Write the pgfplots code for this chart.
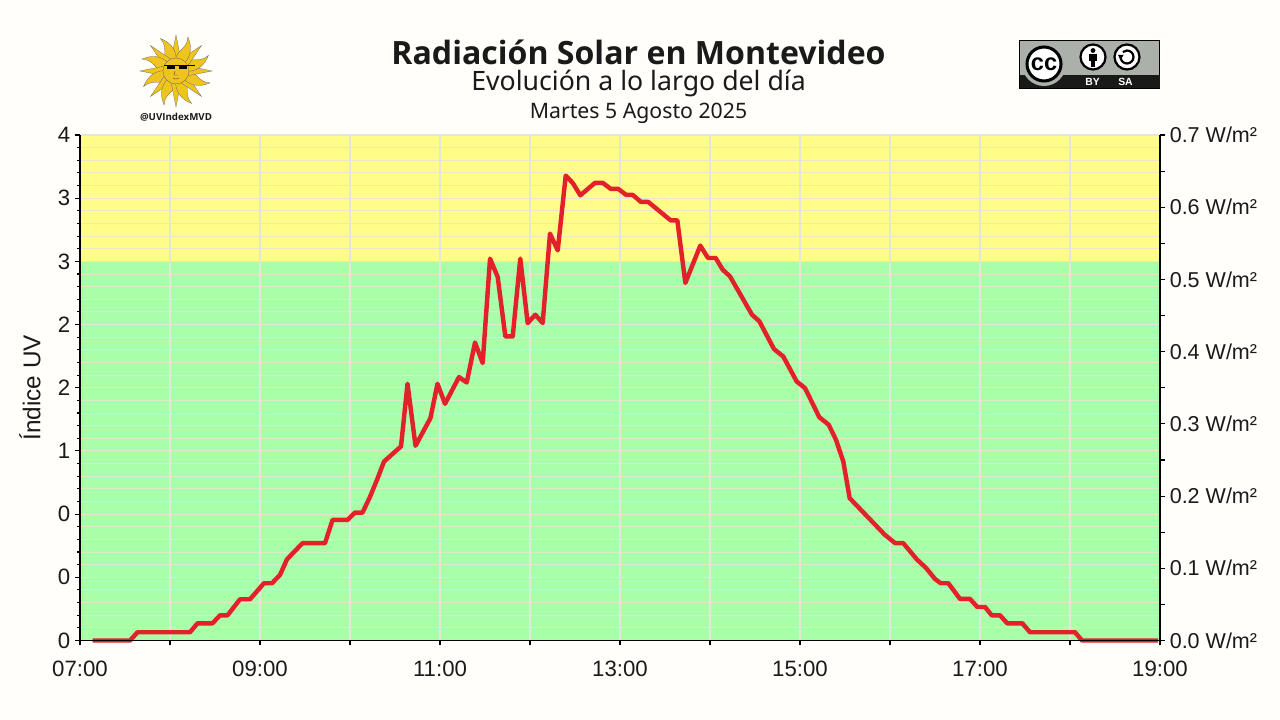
\documentclass[border=0pt]{standalone}
\usepackage{fontspec}
\setmainfont{Liberation Sans}
\newfontfamily\notof{Noto Sans}
\newfontfamily\opens{Open Sans}
\usepackage{pgfplots}
\pgfplotsset{compat=1.18}
\definecolor{bgc}{HTML}{FFFEFA}
\definecolor{yel}{HTML}{FFFD88}
\definecolor{gre}{HTML}{A9FFA9}
\definecolor{gridc}{HTML}{E4E6D8}
\definecolor{linec}{HTML}{E2212B}
\definecolor{txt}{HTML}{1A1A1A}
\definecolor{sun}{HTML}{F0C41E}
\definecolor{ccg}{HTML}{ABB1AA}
\pgfplotsset{base/.style={at={(57.6pt,57.24pt)},anchor=south west,width=777.6pt,height=363.96pt,scale only axis,xmin=7,xmax=19}}
\pgfplotstableread{
h v
7.139 0
7.556 0
7.639 .0114
8.222 .0114
8.306 .0238
8.472 .0238
8.556 .0349
8.639 .0349
8.778 .0571
8.889 .0571
9.044 .0793
9.133 .0793
9.222 .0908
9.300 .1125
9.472 .1347
9.722 .1347
9.806 .1670
9.972 .1670
10.056 .1771
10.139 .1771
10.222 .1989
10.300 .2225
10.378 .2478
10.567 .2689
10.639 .3555
10.728 .2696
10.894 .3080
10.972 .3555
11.056 .3278
11.211 .3648
11.297 .3573
11.389 .4127
11.474 .3842
11.556 .5288
11.641 .5034
11.726 .4211
11.808 .4211
11.892 .5288
11.974 .4396
12.059 .4511
12.141 .4396
12.222 .5634
12.308 .5403
12.397 .6438
12.474 .6337
12.559 .6165
12.722 .6337
12.808 .6337
12.897 .6254
12.981 .6254
13.067 .6171
13.141 .6171
13.233 .6073
13.314 .6073
13.563 .5818
13.637 .5818
13.726 .4951
13.892 .5468
13.978 .5297
14.063 .5297
14.141 .5135
14.222 .5042
14.467 .4511
14.548 .4421
14.711 .4036
14.814 .3933
14.963 .3587
15.056 .3495
15.214 .3093
15.319 .2987
15.400 .2779
15.481 .2478
15.552 .1971
15.944 .1462
16.059 .1347
16.148 .1347
16.297 .1125
16.400 .1005
16.500 .0852
16.563 .0793
16.648 .0793
16.778 .0575
16.889 .0575
16.970 .0464
17.056 .0464
17.130 .0349
17.222 .0349
17.303 .0238
17.470 .0238
17.556 .0114
18.056 .0114
18.133 0
18.978 0
}\uvdata
\begin{document}
\begin{tikzpicture}
\fill[bgc] (0,0) rectangle (921.6pt,518.4pt);
\useasboundingbox (0,0) rectangle (921.6pt,518.4pt);
% bands
\begin{axis}[base,hide axis,ymin=0,ymax=4]
\addplot[draw=none,fill=gre] coordinates {(7,0) (19,0) (19,3) (7,3)} \closedcycle;
\addplot[draw=none,fill=yel] coordinates {(7,3) (19,3) (19,4) (7,4)} \closedcycle;
\end{axis}
% grid
\begin{axis}[base,ymin=0,ymax=4,axis line style={draw=none},
 xtick={7,...,19},ytick={0,0.5,...,4},minor y tick num=4,
 xticklabels={},yticklabels={},
 grid=both,
 major grid style={gridc,line width=0.75pt},
 minor grid style={gridc,line width=0.7pt,opacity=0.85},
 tick style={draw=none}]
\end{axis}
% data
\begin{axis}[base,hide axis,ymin=0,ymax=0.7,clip=false]
\addplot[linec,line width=3.2pt,line join=round] table[x=h,y=v] {\uvdata};
\end{axis}
% left and bottom
\begin{axis}[base,ymin=0,ymax=4,axis x line=bottom,axis y line=left,
 axis line style={-,black,line width=0.8pt},
 tick align=outside,
 xtick={7,...,19},
 xticklabels={07:00,,09:00,,11:00,,13:00,,15:00,,17:00,,19:00},
 ytick={0,0.5,...,4},
 yticklabels={0,0,0,1,2,2,3,3,4},
 minor y tick num=4,
 major tick length=3.5pt,minor tick length=2pt,
 tick style={black,line width=0.8pt},
 every tick label/.append style={font=\fontsize{16}{16}\selectfont,text=txt},
 xticklabel style={yshift=-8pt},
 ylabel={Índice UV},
 every axis y label/.style={at={(ticklabel cs:0.5)},rotate=90,anchor=south,yshift=5.5pt,font=\fontsize{17.5}{18}\selectfont,text=txt}]
\end{axis}
% right
\begin{axis}[base,ymin=0,ymax=0.7,axis x line=none,axis y line=right,
 axis line style={-,black,line width=0.8pt},
 tick align=outside,
 ytick={0,0.1,...,0.71},
 yticklabels={0.0 W/m²,0.1 W/m²,0.2 W/m²,0.3 W/m²,0.4 W/m²,0.5 W/m²,0.6 W/m²,0.7 W/m²},
 minor y tick num=1,
 major tick length=3.5pt,minor tick length=3.5pt,
 tick style={black,line width=0.8pt},
 every tick label/.append style={font=\fontsize{15.5}{16}\selectfont,text=txt}]
\end{axis}
\begin{scope}[shift={(0,518.4pt)},x=0.72pt,y=-0.72pt]
% titles
\node[text=txt,font=\opens\bfseries\fontsize{23.1}{24}\selectfont] at (638.5,52) {Radiación Solar en Montevideo};
\node[text=txt,font=\notof\fontsize{19.2}{20}\selectfont] at (638.5,83) {Evolución a lo largo del día};
\node[text=txt,font=\notof\fontsize{15.3}{16}\selectfont] at (638.5,113) {Martes 5 Agosto 2025};
% sun logo
\begin{scope}[shift={(176,71)}]
\foreach \a in {0,45,...,315}{
 \fill[sun,draw=black!60,line width=0.2pt,rotate=\a] (-5,-11) -- (0,-36) -- (5,-11) -- cycle;
 \fill[sun,draw=black!60,line width=0.2pt,rotate=\a+22.5] (-5,-11) .. controls (-7,-20) and (2,-25) .. (-2,-36) .. controls (6,-28) and (8,-20) .. (5,-11) -- cycle;
}
\fill[sun,draw=black!60,line width=0.25pt] (0,0) circle (13);
\fill[black] (-12,-5.5) rectangle (19,-4.5);
\fill[black] (-9,-5) rectangle (-1.5,-2);
\fill[black] (3,-5) rectangle (10.5,-2);
\draw[black!70,line width=0.3pt] (-3,7) .. controls (-1,8.5) and (1,8.5) .. (3,7);
\draw[black!70,line width=0.3pt] (-1,0) -- (-2,4) -- (2,4);
\end{scope}
\node[text=txt,font=\opens\bfseries\fontsize{7}{7}\selectfont] at (176,117.5) {@UVIndexMVD};
% CC badge
\fill[ccg,draw=black,line width=0.6pt] (1019.5,40.5) rectangle (1159.5,88.5);
\fill[black!90] (1019.5,75) rectangle (1159.5,88.5);
\fill[ccg] (1044,64) circle (22);
\fill[white,draw=black,line width=2.2pt] (1044,64) circle (17);
\node[font=\bfseries\fontsize{17}{17}\selectfont,text=black] at (1044,64) {cc};
\fill[white,draw=black,line width=1.6pt] (1093,57) circle (12.5);
\fill[black] (1093,50.5) circle (2.4);
\fill[black] (1089,54.5) rectangle (1097,61);
\fill[black] (1091,61) rectangle (1095,67.5);
\fill[white,draw=black,line width=1.6pt] (1127,57) circle (12.5);
\draw[black,line width=1.6pt] (1120.5,57) arc[start angle=180,end angle=-130,radius=6.5];
\fill[black] (1118,55) -- (1123.5,55) -- (1120.7,60) -- cycle;
\node[text=white,font=\bfseries\fontsize{7.5}{8}\selectfont] at (1092.5,82) {BY};
\node[text=white,font=\bfseries\fontsize{7.5}{8}\selectfont] at (1125.5,82) {SA};
\end{scope}
\end{tikzpicture}
\end{document}
